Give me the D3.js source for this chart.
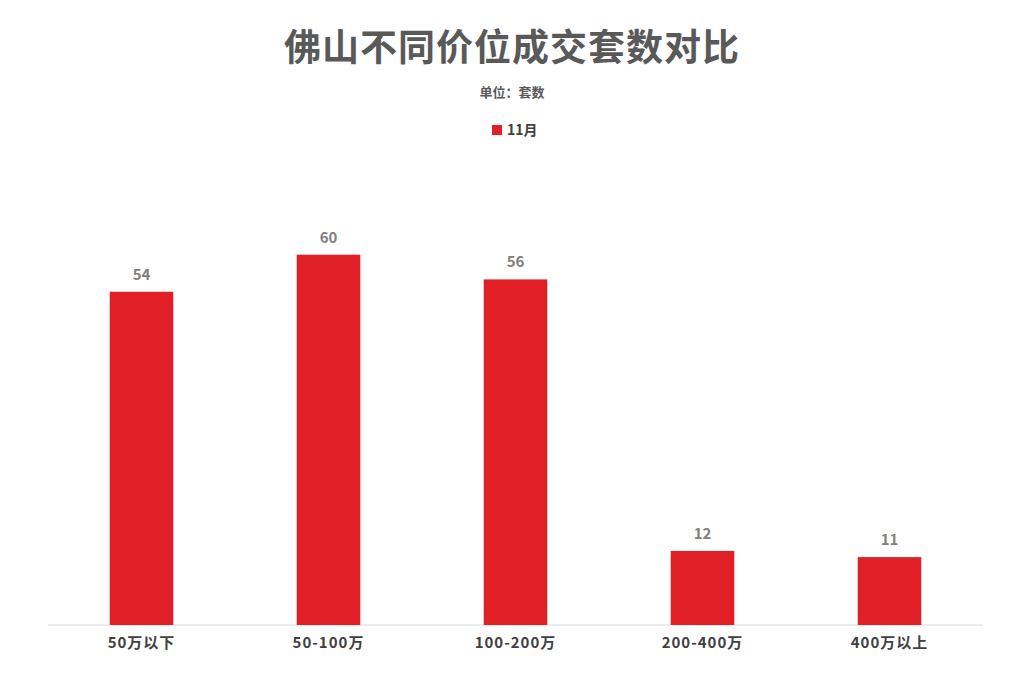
<!DOCTYPE html>
<html><head><meta charset="utf-8">
<script src="https://cdn.jsdelivr.net/npm/d3@7"></script>
<style>body{margin:0;background:#fff;font-family:"Noto Sans CJK SC",sans-serif;}</style>
</head><body><div id="chart"></div>
<script>
var categories = ["50万以下", "50-100万", "100-200万", "200-400万", "400万以上"];
var values = [54, 60, 56, 12, 11];
var seriesName = "11月";

var width = 1024, height = 684;
var margin = {top: 193, right: 41, bottom: 59, left: 48};

var svg = d3.select("#chart").append("svg")
	.attr("width", width).attr("height", height);

svg.append("text").attr("x", 512).attr("y", 61)
	.attr("text-anchor", "middle").attr("font-size", 37).attr("font-weight", "bold")
	.attr("letter-spacing", 1).attr("fill", "#595959").text("佛山不同价位成交套数对比");
svg.append("text").attr("x", 512).attr("y", 97)
	.attr("text-anchor", "middle").attr("font-size", 13).attr("font-weight", "bold")
	.attr("fill", "#595959").text("单位：套数");

//legend
svg.append("rect").attr("x", 492).attr("y", 125).attr("width", 10).attr("height", 10).attr("fill", "#e01f26");
svg.append("text").attr("x", 507).attr("y", 135).attr("font-size", 14).attr("font-weight", "bold")
	.attr("fill", "#404040").text(seriesName);

var xscale = d3.scaleBand().domain(categories)
	.range([margin.left, width - margin.right]).paddingInner(0.66).paddingOuter(0.33);
var yscale = d3.scaleLinear().domain([0, 70])
	.range([height - margin.bottom, margin.top]);

var xAxis = svg.append("g")
	.attr("transform", "translate(0," + (height - margin.bottom) + ")")
	.call(d3.axisBottom(xscale).tickSize(0).tickPadding(12));
xAxis.select(".domain").attr("stroke", "#d9d9d9").attr("d", "M" + margin.left + ",0H" + (width - margin.right));
xAxis.selectAll("text").attr("font-size", 15).attr("font-weight", "bold").attr("letter-spacing", 1)
	.attr("fill", "#404040").attr("font-family", "Noto Sans CJK SC");

svg.selectAll(".bar").data(values).enter().append("rect")
	.attr("class", "bar")
	.attr("x", function(d, i){ return xscale(categories[i]); })
	.attr("width", xscale.bandwidth())
	.attr("y", function(d){ return yscale(d); })
	.attr("height", function(d){ return yscale(0) - yscale(d); })
	.attr("fill", "#e01f26");

svg.selectAll(".lbl").data(values).enter().append("text")
	.attr("class", "lbl")
	.attr("x", function(d, i){ return xscale(categories[i]) + xscale.bandwidth() / 2; })
	.attr("y", function(d){ return yscale(d) - 12; })
	.attr("text-anchor", "middle").attr("font-size", 15).attr("font-weight", "bold")
	.attr("fill", "#7f7f7f").text(function(d){ return d; });
</script></body></html>
